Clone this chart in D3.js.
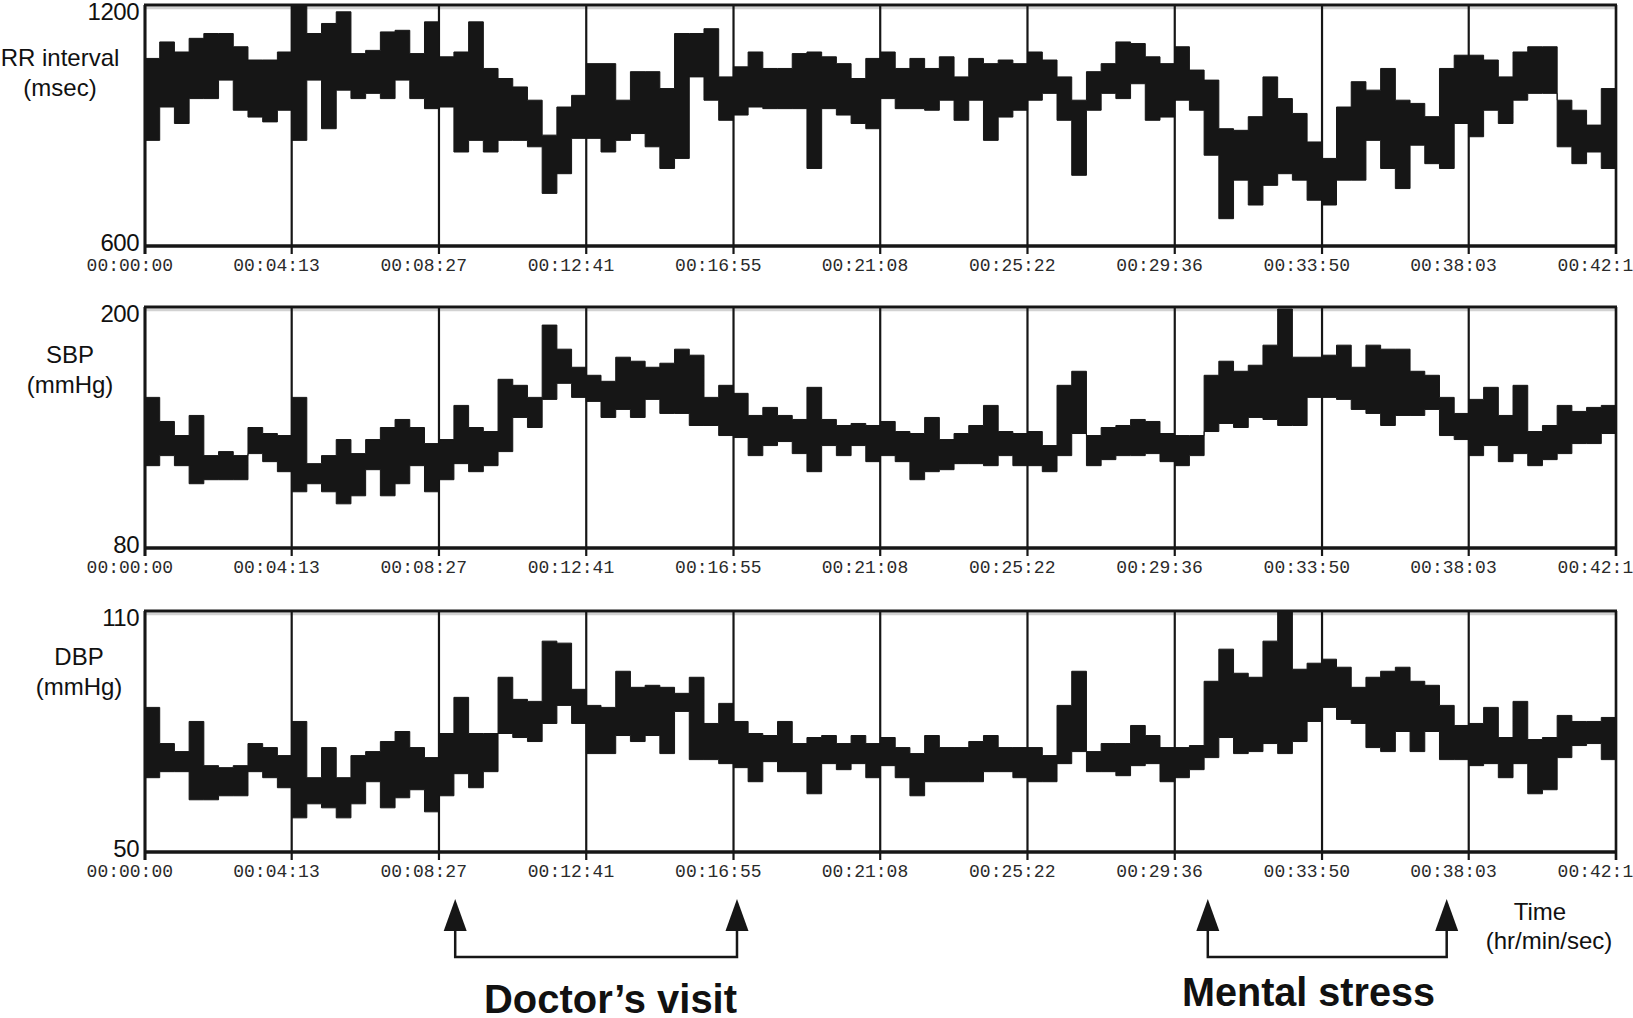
<!doctype html>
<html lang="en">
<head>
<meta charset="UTF-8">
<title>RR interval / SBP / DBP</title>
<style>
  html, body { margin: 0; padding: 0; background: #fff; overflow: hidden; }
  svg { display: block; }
  .lbl { font-family: "Liberation Sans", Arial, sans-serif; font-size: 24px; fill: #111; }
  .num { font-family: "Liberation Sans", Arial, sans-serif; font-size: 24px; fill: #111; letter-spacing: -0.5px; }
  .tick { font-family: "Liberation Mono", "DejaVu Sans Mono", monospace; font-size: 18px; fill: #2a2a2a; }
  .note { font-family: "Liberation Sans", Arial, sans-serif; font-weight: bold; font-size: 41px; fill: #111; }
</style>
</head>
<body>
<svg width="1633" height="1018"></svg>
<script src="https://cdn.jsdelivr.net/npm/d3@7/dist/d3.min.js"></script>
<script>
// recording length in seconds (00:42:17), 10 grid cells
const totalSec = 2537
const tickSeconds = [0, 253, 507, 761, 1015, 1268, 1522, 1776, 2030, 2283, 2537]
const tickLabels = ['00:00:00', '00:04:13', '00:08:27', '00:12:41', '00:16:55', '00:21:08',
                    '00:25:22', '00:29:36', '00:33:50', '00:38:03', '00:42:17']

// each value = min / max of the beat-to-beat trace in a 1/100 slice of the recording
const rrHi = [1067,1108,1083,1117,1129,1129,1096,1063,1063,1083,
              1200,1129,1154,1183,1079,1087,1133,1137,1079,1158,
              1071,1083,1158,1042,1017,996,963,876,946,975,
              1054,1054,963,1034,1034,992,1129,1129,1141,1021,
              1046,1083,1042,1042,1079,1083,1071,1054,1017,1067,
              1083,1042,1067,1042,1071,1021,1067,1054,1063,1054,
              1083,1063,1021,963,1034,1054,1108,1104,1071,1054,
              1096,1038,1013,892,888,922,1021,967,930,859,
              818,946,1009,988,1042,963,955,922,1042,1075,
              1075,1063,1021,1083,1096,1096,963,938,901,992]
const rrLo = [863,946,905,967,967,1013,938,921,909,938,
              863,1013,892,988,967,980,967,1013,967,942,
              946,834,863,834,863,863,847,731,780,868,
              868,834,863,880,847,793,818,1021,963,913,
              926,946,942,942,942,793,942,926,905,892,
              967,942,942,938,963,913,963,863,921,938,
              963,980,913,776,938,980,967,1004,913,921,
              963,938,826,668,764,702,751,780,764,714,
              702,764,764,863,793,743,851,805,793,905,
              872,938,905,963,980,980,847,805,834,793]

const sbpHi = [155,143,136,146,126,128,126,140,137,136,
               155,122,126,134,127,134,140,144,140,132,
               134,151,140,138,164,161,155,191,179,170,
               166,163,175,173,170,172,179,176,155,161,
               157,146,150,146,144,160,144,141,142,141,
               143,138,137,145,134,137,141,151,138,137,
               138,131,161,168,136,140,141,144,143,137,
               136,136,166,173,168,171,181,199,175,175,
               176,181,170,181,179,179,168,166,155,147,
               154,160,146,161,138,141,151,148,150,151]
const sbpLo = [121,126,121,112,114,114,114,127,123,118,
               108,112,108,102,106,119,106,112,121,108,
               114,122,118,121,128,145,140,154,162,155,
               153,145,149,145,154,147,147,141,141,136,
               135,126,131,133,127,118,131,126,131,123,
               126,123,114,118,119,122,122,121,126,121,
               121,118,126,137,121,124,126,126,127,123,
               121,126,138,142,140,145,144,141,141,155,
               155,154,149,147,141,146,146,149,136,134,
               126,131,123,127,121,124,127,132,132,137]

const dbpHi = [86,77,75,82.5,71.5,71,71.5,77,76,74,
               82.5,68.5,76,68.5,74,75,77.5,80,76,73.5,
               79.5,88.5,79.5,79.5,93.5,88,87.5,102.5,102,90.5,
               86.5,86,95,91,91.5,91,89.5,93.5,82,87,
               82.5,79.5,79,82.5,77,78.5,79,77,79,77,
               78.5,76,74.5,79,76,76,77.5,79,76,76,
               76,74,86.5,95,75,77,77,81.5,79,76,
               76,76.5,92.5,100.5,94.5,93.5,102.5,110,95.5,97,
               98,96,91,93.5,95,96,92.5,91.5,86.5,81.5,
               82,86,78.5,87.5,78,78.5,84,82.5,82.5,83.5]
const dbpLo = [68.5,70,70,63,63,64,64,70,68.5,66,
               58.5,62,61,58.5,62,67.5,61,63.5,65.5,60,
               64,69.5,66,70,79.5,78.5,77.5,82,86.5,82,
               74.5,74.5,79,77.5,79,74.5,85,73,73,72,
               71,67.5,72.5,70,70,64.5,72,70.5,72,68.5,
               71.5,68.5,64,67.5,67.5,67.5,67.5,70,70,68.5,
               67.5,67.5,72,75,70,70,69,71.5,72,67.5,
               68.5,70.5,73.5,78.5,74.5,75,77,74.5,77.5,82.5,
               86,83,82,76,75,80,75,80,73,73,
               71.5,72,68.5,72,64.5,65.5,73.5,76.5,77,73]

// event markers (seconds from start)
const doctorVisit = [535, 1021]
const mentalStress = [1833, 2245]

const panels = [
  {title: ['RR interval', '(msec)'], domain: [600, 1200], hi: rrHi, lo: rrLo, lx: 60, ly: 53},
  {title: ['SBP', '(mmHg)'], domain: [80, 200], hi: sbpHi, lo: sbpLo, lx: 70, ly: 48},
  {title: ['DBP', '(mmHg)'], domain: [50, 110], hi: dbpHi, lo: dbpLo, lx: 79, ly: 46}
]

const svg = d3.select('svg')
const left = 145, right = 1616, ph = 241
const tops = [5, 307, 611]
const ink = '#161616'

const x = d3.scaleLinear().domain([0, totalSec]).range([left, right])

panels.forEach((p, i) => {
  const top = tops[i], bottom = top + ph
  const y = d3.scaleLinear().domain(p.domain).range([bottom, top])
  const g = svg.append('g')

  // grey shading under the top border (scan artefact)
  g.append('line').attr('x1', left).attr('x2', right)
    .attr('y1', top + 3).attr('y2', top + 3)
    .attr('stroke', '#d2d2d2').attr('stroke-width', 2.5)

  // vertical grid lines + ticks below the axis
  g.selectAll('.grid').data(tickSeconds).enter().append('line')
    .attr('x1', d => x(d)).attr('x2', d => x(d))
    .attr('y1', top).attr('y2', bottom + 8)
    .attr('stroke', ink).attr('stroke-width', 2.2)

  // trace as a min/max band, stepped
  const n = p.hi.length
  const dt = totalSec / n
  const pts = p.hi.map((h, k) => ({t: k * dt, hi: h, lo: p.lo[k]}))
  pts.push({t: totalSec, hi: p.hi[n - 1], lo: p.lo[n - 1]})
  const area = d3.area()
    .x(d => x(d.t))
    .y0(d => y(d.lo))
    .y1(d => y(Math.min(d.hi, p.domain[1])))
    .curve(d3.curveStepAfter)
  g.append('path').datum(pts).attr('d', area)
    .attr('fill', ink).attr('stroke', ink).attr('stroke-width', 1)

  // frame
  g.append('line').attr('x1', left - 1).attr('x2', right + 1).attr('y1', top).attr('y2', top)
    .attr('stroke', ink).attr('stroke-width', 3)
  g.append('line').attr('x1', left - 1).attr('x2', right + 1).attr('y1', bottom).attr('y2', bottom)
    .attr('stroke', ink).attr('stroke-width', 3.5)
  g.append('line').attr('x1', left).attr('x2', left).attr('y1', top).attr('y2', bottom + 8)
    .attr('stroke', ink).attr('stroke-width', 3)
  g.append('line').attr('x1', right).attr('x2', right).attr('y1', top).attr('y2', bottom + 8)
    .attr('stroke', ink).attr('stroke-width', 2.5)

  // y range labels
  g.append('text').attr('class', 'num').attr('x', left - 6).attr('y', y(p.domain[1]) + 7)
    .attr('dy', '0.35em').attr('text-anchor', 'end').text(p.domain[1])
  g.append('text').attr('class', 'num').attr('x', left - 6).attr('y', y(p.domain[0]) - 3)
    .attr('dy', '0.35em').attr('text-anchor', 'end').text(p.domain[0])

  // series title
  p.title.forEach((s, k) => {
    g.append('text').attr('class', 'lbl').attr('x', p.lx).attr('y', top + p.ly + k * 30)
      .attr('dy', '0.35em').attr('text-anchor', 'middle').text(s)
  })

  // time labels
  g.selectAll('.tick').data(tickSeconds).enter().append('text')
    .attr('class', 'tick')
    .attr('x', d => x(d) + 28).attr('y', bottom + 25)
    .attr('text-anchor', 'end')
    .text((d, k) => tickLabels[k])
})

// Time axis title
svg.append('text').attr('class', 'lbl').attr('x', 1540).attr('y', 912)
  .attr('dy', '0.35em').attr('text-anchor', 'middle').text('Time')
svg.append('text').attr('class', 'lbl').attr('x', 1549).attr('y', 941)
  .attr('dy', '0.35em').attr('text-anchor', 'middle').text('(hr/min/sec)')

// event brackets
const notes = [
  {span: doctorVisit, text: 'Doctor\u2019s visit', tx: 484, ty: 1013, tw: 253},
  {span: mentalStress, text: 'Mental stress', tx: 1182, ty: 1006, tw: 253}
]
const tipY = 899, headY = 930, baseY = 957, hw = 11.5
notes.forEach(nt => {
  const [x1, x2] = nt.span.map(x)
  svg.append('path')
    .attr('d', `M${x1},${headY}V${baseY}H${x2}V${headY}`)
    .attr('fill', 'none').attr('stroke', ink).attr('stroke-width', 2.5)
  ;[x1, x2].forEach(xx => {
    svg.append('path')
      .attr('d', `M${xx},${tipY}L${xx - hw},${headY + 1}L${xx + hw},${headY + 1}Z`)
      .attr('fill', ink)
  })
  svg.append('text').attr('class', 'note').attr('x', nt.tx).attr('y', nt.ty)
    .attr('textLength', nt.tw).attr('lengthAdjust', 'spacingAndGlyphs')
    .text(nt.text)
})
</script>
</body>
</html>
